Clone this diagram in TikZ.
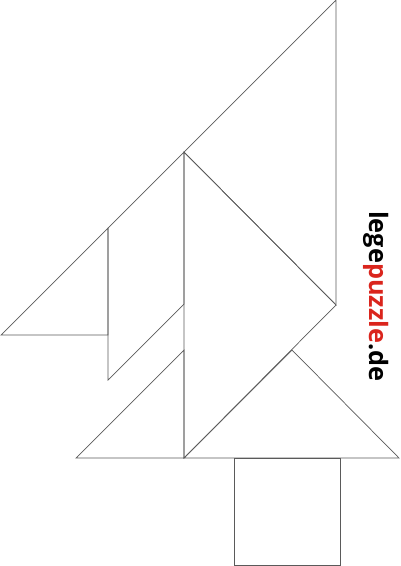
\documentclass[tikz,border=0pt]{standalone}
\usepackage{fontspec}
\setmainfont{Open Sans}
\definecolor{legered}{RGB}{218,37,29}
\definecolor{legeline}{RGB}{90,90,90}
\tikzstyle{corner}=[coordinate]
\tikzstyle{piece} = [draw=legeline, line width=0.7pt, line join=miter]
\tikzstyle{brand} = [rotate=-90, anchor=base west, inner sep=0pt, font=\fontsize{25.3}{26}\selectfont\bfseries]
\begin{document}
\begin{tikzpicture}[x=1pt, y=-1pt]
		\useasboundingbox (0,0) rectangle (400,566);
		\foreach \pos/\name in {{(336,0)/a}, {(184,152)/b}, {(336,305)/c}, {(184,458)/d}, {(108,228)/e}, {(1,335)/f}, {(108,335)/g}, {(108,380)/h}, {(184,304)/i}, {(184,350)/j}, {(76,458)/k}, {(292,350)/m}, {(399,458)/n}, {(234,458)/s1}, {(340,458)/s2}, {(340,565)/s3}, {(234,565)/s4}}
			\node[corner] (\name) at \pos {};
		\foreach \p/\q/\r in {a/b/c, b/c/d, f/e/g, k/j/d, d/m/n}
			\path[piece] (\p) -- (\q) -- (\r) -- cycle;
		\path[piece] (e) -- (b) -- (i) -- (h) -- cycle;
		\path[piece] (s1) -- (s2) -- (s3) -- (s4) -- cycle;
		\node[brand] (logo) at (369,211) {lege\textcolor{legered}{puzzle}.de};
	\end{tikzpicture}
\end{document}
